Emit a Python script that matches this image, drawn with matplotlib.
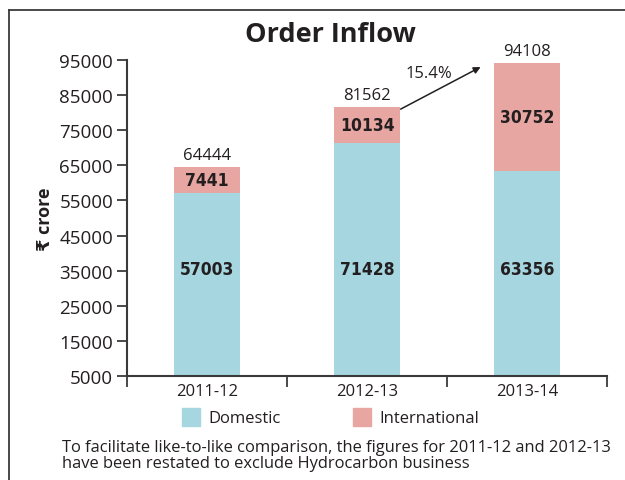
import matplotlib
matplotlib.use("Agg")
import matplotlib.pyplot as plt
from matplotlib.patches import Patch
from matplotlib.lines import Line2D

years = ["2011-12", "2012-13", "2013-14"]
domestic = [57003, 71428, 63356]
international = [7441, 10134, 30752]
totals = [64444, 81562, 94108]
growth_label = "15.4%"
yticks = list(range(5000, 95001, 10000))

plt.rcParams["font.family"] = ["Open Sans", "DejaVu Sans"]

BLUE = "#a6d6df"
PINK = "#e8a6a2"
DARK = "#231f20"
AXC = "#3a3a3a"

fig = plt.figure(figsize=(6.25, 4.81), dpi=100)
ax = fig.add_axes([0.2032, 0.2162, 0.768, 0.657])

x = list(range(len(years)))
ax.bar(x, domestic, width=0.41, color=BLUE, zorder=2)
ax.bar(x, international, bottom=domestic, width=0.41, color=PINK, zorder=2)

ax.set_xlim(-0.5, 2.5)
ax.set_ylim(5000, 95000)
ax.set_yticks(yticks)
ax.set_yticklabels([str(v) for v in yticks], fontsize=13.5, color=DARK)

# category dividers as ticks, labels at centres
ax.set_xticks([-0.5, 0.5, 1.5, 2.5])
ax.set_xticklabels([])
ax.set_xticks(x, minor=True)
ax.set_xticklabels(years, minor=True, fontsize=12, color=DARK)
ax.tick_params(axis="x", which="major", direction="out", length=8, width=1.3, color=AXC)
ax.tick_params(axis="x", which="minor", length=0, pad=5)
ax.tick_params(axis="y", direction="out", length=7, width=1.3, color=AXC, pad=3)

for s in ["top", "right"]:
    ax.spines[s].set_visible(False)
for s in ["left", "bottom"]:
    ax.spines[s].set_color(AXC)
    ax.spines[s].set_linewidth(1.5)

# value labels (condensed bold inside the bars)
for i in x:
    ax.text(i, 35500, str(domestic[i]), ha="center", va="center",
            fontsize=12.5, fontweight="bold", family="DejaVu Sans",
            fontstretch="condensed", color=DARK, zorder=3)
    ax.text(i, domestic[i] + international[i] / 2, str(international[i]),
            ha="center", va="center", fontsize=12.5, fontweight="bold",
            family="DejaVu Sans", fontstretch="condensed", color=DARK, zorder=3)
    ax.annotate(str(totals[i]), (i, domestic[i] + international[i]),
                xytext=(0, 3), textcoords="offset points", ha="center",
                va="bottom", fontsize=12, color=DARK)

# growth arrow
ax.annotate("", xy=(1.71, 93000), xytext=(1.21, 81000),
            arrowprops=dict(arrowstyle="-|>", color=DARK, lw=1.1,
                            mutation_scale=10, shrinkA=0, shrinkB=0))
ax.text(1.39, 91300, growth_label, ha="center", va="center", fontsize=12, color=DARK)

ax.set_ylabel("\u20b9 crore", fontsize=13, fontweight="bold", color=DARK, labelpad=4)

fig.text(0.528, 0.927, "Order Inflow", ha="center", va="center",
         fontsize=19.5, fontweight="bold", color=DARK)

handles = [Patch(color=BLUE), Patch(color=PINK)]
fig.legend(handles, ["Domestic", "International"], loc="center",
           bbox_to_anchor=(0.529, 0.131), ncol=2, frameon=False,
           fontsize=12, handlelength=1.1, handleheight=1.3,
           handletextpad=0.5, columnspacing=4.3, labelcolor=DARK)

fig.text(0.099, 0.052, "To facilitate like-to-like comparison, the figures for 2011-12 and 2012-13\n"
         "have been restated to exclude Hydrocarbon business",
         ha="left", va="center", fontsize=11.9, color=DARK, linespacing=1.0)

# frame lines top and left
fig.add_artist(Line2D([9 / 625, 1], [1 - 11 / 481, 1 - 11 / 481],
                      transform=fig.transFigure, color=AXC, lw=1.3))
fig.add_artist(Line2D([9 / 625, 9 / 625], [0, 1 - 11 / 481],
                      transform=fig.transFigure, color=AXC, lw=1.3))

fig.savefig("out.png", dpi=100)
